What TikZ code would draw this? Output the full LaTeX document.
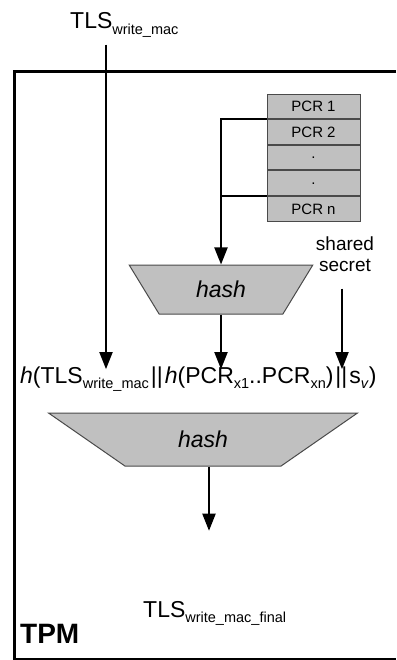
\documentclass[tikz,border=0pt]{standalone}
\usepackage{fontspec}
\setmainfont{Liberation Sans}
\usepackage{xcolor}
\usepackage{tikz}
\usetikzlibrary{positioning, arrows.meta, shapes.geometric}

\definecolor{boxgray}{HTML}{C0C0C0}
\definecolor{edgegray}{HTML}{4A4A4A}
\newcommand{\lowsub}[1]{\raisebox{-5.5pt}{\fontsize{14.5}{16}\selectfont #1}}

\begin{document}
\begin{tikzpicture}[
    x=1pt, y=-1pt,
    lbl/.style={inner sep=0pt, font=\fontsize{23}{26}\selectfont},
    pcr/.style={rectangle, draw=edgegray, line width=1pt, fill=boxgray, minimum width=93pt, minimum height=24.6pt, inner sep=0pt, font=\fontsize{15}{17}\selectfont},
    hashbox/.style={trapezium, shape border rotate=180, trapezium stretches=true, draw=edgegray, line width=1pt, fill=boxgray, inner sep=0pt, font=\fontsize{23}{26}\selectfont\itshape},
    conn/.style={line width=2pt, -{Triangle[length=17pt, width=13pt]}},
    plain/.style={line width=2pt}
]
\useasboundingbox (0,0) rectangle (396,660);

% TPM frame
\draw[line width=3pt] (396,72) -- (14,72) -- (14,659) -- (396,659);
\node[font=\fontsize{28}{30}\selectfont\bfseries, inner sep=0pt, anchor=base west] (tpm) at (20,643) {TPM};

% inputs
\node[lbl, anchor=base west] (tlsin) at (70,29) {TLS\lowsub{write\_mac}};
\node[pcr] (pcr1) at (313.5,106.5) {PCR 1};
\node[pcr, below=0pt of pcr1] (pcr2) {PCR 2};
\node[pcr, below=0pt of pcr2] (pcrd1) {.};
\node[pcr, below=0pt of pcrd1] (pcrd2) {.};
\node[pcr, below=0pt of pcrd2] (pcrn) {PCR n};
\node[align=center, inner sep=0pt, font=\fontsize{19}{21}\selectfont] (secret) at (345,254) {shared\\secret};

% hashing
\node[hashbox, minimum width=184pt, minimum height=49pt, trapezium angle=54.5] (hashpcr) at (221,289.5) {hash};
\node[inner sep=0pt, anchor=base west, font=\fontsize{23}{26}\selectfont] (concat) at (20,383)
    {\textit{h}(TLS\lowsub{write\_mac}\kern2pt||\kern2pt\textit{h}(PCR\lowsub{x1}..PCR\lowsub{xn})\kern2pt||\kern2pt s\lowsub{\textit{v}})};
\node[hashbox, minimum width=310pt, minimum height=53pt, trapezium angle=34.7] (hashfin) at (203,439.5) {hash};
\node[lbl, anchor=base west] (tlsout) at (143,617) {TLS\lowsub{write\_mac\_final}};

\coordinate (colmac) at (106,0);
\coordinate (colsec) at (342,0);
\coordinate (colfin) at (209,0);

\draw[conn] (pcr2.north west) -| (hashpcr.north);
\draw[plain] (pcrn.north west) -- (pcrn.north west -| hashpcr.north);
\draw[conn] ([yshift=-7pt]tlsin.south -| colmac) -- ([yshift=-3pt]concat.north -| colmac);
\draw[conn] (hashpcr.south) -- ([yshift=-3pt]concat.north -| hashpcr.south);
\draw[conn] ([yshift=-17pt]secret.south -| colsec) -- ([yshift=-3pt]concat.north -| colsec);
\draw[conn] (hashfin.south -| colfin) -- ([yshift=70pt]tlsout.north -| colfin);

\end{tikzpicture}
\end{document}
